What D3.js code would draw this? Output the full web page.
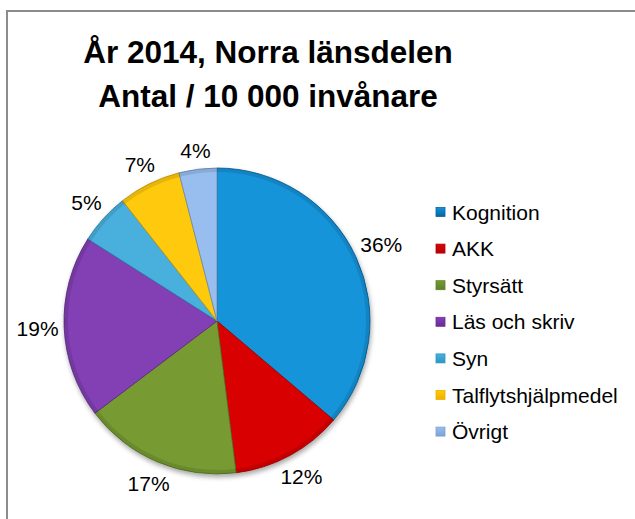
<!DOCTYPE html>
<html>
<head>
<meta charset="utf-8">
<script src="https://cdn.jsdelivr.net/npm/d3@7"></script>
<style>
  body { margin: 0; background: #fff; }
  text { font-family: "Liberation Sans", Arial, sans-serif; fill: #000; }
</style>
</head>
<body>
<svg width="635" height="519"></svg>
<script>
// data (shares in percent)
var categories = ["Kognition", "AKK", "Styrsätt", "Läs och skriv", "Syn", "Talflytshjälpmedel", "Övrigt"];
var values = [36.2, 11.8, 16.7, 19.3, 5.4, 6.6, 4.0];
var titleLines = ["År 2014, Norra länsdelen", "Antal / 10 000 invånare"];

var colorsTop = ["#1294da", "#d80404", "#779a32", "#8240b4", "#48b0de", "#ffca08", "#98bef0"];
var colorsBot = ["#0564a4", "#b80000", "#5f8128", "#6a2d96", "#2f94c4", "#eeb000", "#7ca2d4"];

var svg = d3.select("svg"),
    width = +svg.attr("width"),
    height = +svg.attr("height");

var cx = 217, cy = 321, r = 153;

var defs = svg.append("defs");

var shadow = defs.append("filter").attr("id", "shadow")
    .attr("x", "-20%").attr("y", "-20%").attr("width", "140%").attr("height", "140%");
shadow.append("feGaussianBlur").attr("in", "SourceAlpha").attr("stdDeviation", 2.5);
shadow.append("feOffset").attr("dx", 1).attr("dy", 3).attr("result", "blur");
shadow.append("feComponentTransfer").append("feFuncA").attr("type", "linear").attr("slope", 0.35);
var merge = shadow.append("feMerge");
merge.append("feMergeNode");
merge.append("feMergeNode").attr("in", "SourceGraphic");

categories.forEach(function(c, i) {
  var lg = defs.append("linearGradient").attr("id", "grad" + i)
      .attr("gradientUnits", "userSpaceOnUse")
      .attr("x1", cx).attr("y1", cy - r).attr("x2", cx).attr("y2", cy + r);
  lg.append("stop").attr("offset", "0%").attr("stop-color", colorsTop[i]);
  lg.append("stop").attr("offset", "100%").attr("stop-color", colorsBot[i]);

  var lg2 = defs.append("linearGradient").attr("id", "lgrad" + i)
      .attr("x1", 0).attr("y1", 0).attr("x2", 0).attr("y2", 1);
  lg2.append("stop").attr("offset", "0%").attr("stop-color", colorsTop[i]);
  lg2.append("stop").attr("offset", "100%").attr("stop-color", colorsBot[i]);
});

// frame
svg.append("rect")
    .attr("x", 7).attr("y", 11)
    .attr("width", 700).attr("height", 600)
    .attr("fill", "none").attr("stroke", "#8c8c8c").attr("stroke-width", 2);

// title
svg.append("g").selectAll("text")
    .data(titleLines)
  .enter().append("text")
    .attr("x", 268)
    .attr("y", function(d, i) { return 63 + i * 44; })
    .attr("text-anchor", "middle")
    .style("font-size", "31.5px")
    .style("font-weight", "bold")
    .text(function(d) { return d; });

var total = d3.sum(values);
var pie = d3.pie().sort(null).value(function(d) { return d; });
var arcs = pie(values);

var arc = d3.arc().innerRadius(0).outerRadius(r);
var bevel = d3.arc().innerRadius(r - 4).outerRadius(r);

var g = svg.append("g").attr("transform", "translate(" + cx + "," + cy + ")");

g.append("g").attr("filter", "url(#shadow)")
  .selectAll("path")
    .data(arcs)
  .enter().append("path")
    .attr("d", arc)
    .attr("fill", function(d, i) { return "url(#grad" + i + ")"; })
    .attr("stroke", function(d, i) { return d3.color(colorsBot[i]).darker(0.5); })
    .attr("stroke-width", 0.8);

// darker bevel along the rim
g.append("g").selectAll("path")
    .data(arcs)
  .enter().append("path")
    .attr("d", bevel)
    .attr("fill", "#000")
    .attr("fill-opacity", 0.1);

// percentage labels outside the slices
g.append("g").selectAll("text")
    .data(arcs)
  .enter().append("text")
    .each(function(d) {
      var a = (d.startAngle + d.endAngle) / 2;
      var s = Math.sin(a), c = Math.cos(a);
      var lab = Math.round(d.value / total * 100) + "%";
      var w = lab.length * 11.5;
      var R = r + 9 + Math.abs(s) * w / 2 + Math.abs(c) * 8;
      d3.select(this)
        .attr("x", s * R)
        .attr("y", -c * R)
        .attr("dy", "0.35em")
        .attr("text-anchor", "middle")
        .style("font-size", "21px")
        .text(lab);
    });

// legend
var legend = svg.append("g").attr("transform", "translate(436,212)");
var rows = legend.selectAll("g")
    .data(categories)
  .enter().append("g")
    .attr("transform", function(d, i) { return "translate(0," + (i * 36.6) + ")"; });

rows.append("rect")
    .attr("x", 0).attr("y", -4.5)
    .attr("width", 9).attr("height", 9)
    .attr("fill", function(d, i) { return "url(#lgrad" + i + ")"; })
    .attr("stroke", function(d, i) { return colorsBot[i]; })
    .attr("stroke-width", 0.8);

rows.append("text")
    .attr("x", 16)
    .attr("y", 0)
    .attr("dy", "0.36em")
    .style("font-size", "21px")
    .text(function(d) { return d; });
</script>
</body>
</html>
